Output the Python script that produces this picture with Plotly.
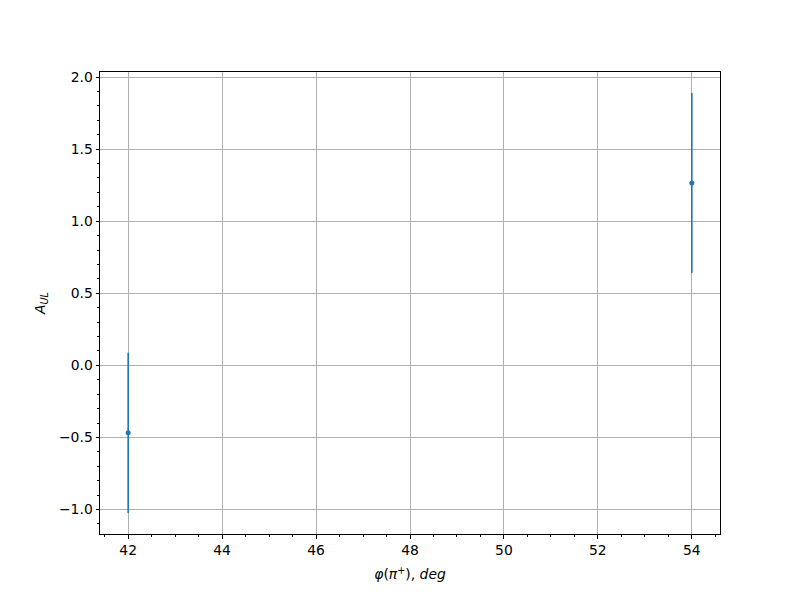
import plotly.graph_objects as go

x_vals = [42, 54]
y_vals = [-0.468, 1.265]
y_err = [0.556, 0.624]

x_ticks = [42, 44, 46, 48, 50, 52, 54]
y_ticks = [-1.0, -0.5, 0.0, 0.5, 1.0, 1.5, 2.0]
y_tick_text = ["−1.0", "−0.5", "0.0", "0.5", "1.0", "1.5", "2.0"]

color = "#1f77b4"
font = dict(family="DejaVu Sans", size=13.9, color="black")

fig = go.Figure()
fig.add_trace(go.Scatter(
    x=x_vals, y=y_vals, mode="markers",
    marker=dict(color=color, size=5),
    error_y=dict(type="data", array=y_err, visible=True, color=color,
                 thickness=1.6, width=0),
    showlegend=False,
))

axis_common = dict(
    showline=True, linecolor="black", linewidth=1, mirror=True,
    ticks="outside", ticklen=3.5, tickwidth=0.8, tickcolor="black",
    showgrid=True, gridcolor="#b0b0b0", gridwidth=0.8,
    zeroline=False, tickfont=font, automargin=False,
)

fig.update_xaxes(
    range=[41.4, 54.6], tickmode="array", tickvals=x_ticks,
    ticktext=[str(v) for v in x_ticks],
    minor=dict(dtick=0.5, tick0=42, ticks="outside", ticklen=2,
               tickwidth=0.6, tickcolor="black", showgrid=False),
    title=dict(text="<i>φ</i>(<i>π</i><sup>+</sup>), <i>deg</i>", font=font, standoff=12),
    **axis_common,
)
fig.update_yaxes(
    range=[-1.170, 2.035], tickmode="array", tickvals=y_ticks,
    ticktext=y_tick_text,
    minor=dict(dtick=0.1, tick0=0, ticks="outside", ticklen=2,
               tickwidth=0.6, tickcolor="black", showgrid=False),
    title=dict(text="<i>A</i><sub><i>UL</i></sub>", font=font, standoff=10),
    **axis_common,
)

fig.update_layout(
    width=800, height=600,
    margin=dict(l=92, r=88, t=64, b=74),
    plot_bgcolor="white", paper_bgcolor="white",
    font=font,
)

fig.write_html("out.html")
